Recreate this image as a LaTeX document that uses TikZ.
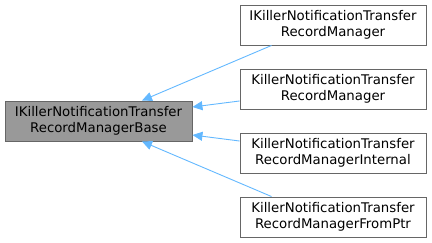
\documentclass[tikz,border=0pt]{standalone}
\usepackage{fontspec}
\setmainfont{DejaVu Sans}
\usetikzlibrary{arrows.meta,calc}
\definecolor{boxborder}{HTML}{666666}
\definecolor{basefill}{HTML}{999999}
\definecolor{edgeblue}{HTML}{63B8FF}
\begin{document}
\begin{tikzpicture}[x=1pt,y=-1pt,
  cls/.style={draw=boxborder, fill=white, line width=0.9pt, minimum width=186pt,
    minimum height=40pt, align=center, inner sep=0pt,
    font=\fontsize{13.3}{15.5}\selectfont},
  basecls/.style={cls, fill=basefill, minimum width=187pt},
  inh/.style={draw=edgeblue, line width=0.9pt,
    -{Triangle[length=10pt,width=9pt,fill=edgeblue]}}]
\useasboundingbox (0,0) rectangle (432,243);
% base class
\node[basecls] (base) at (98.5,121) {IKillerNotificationTransfer\\RecordManagerBase};
% derived classes
\node[cls] (c1) at (333,25)  {IKillerNotificationTransfer\\RecordManager};
\node[cls] (c2) at (333,89)  {KillerNotificationTransfer\\RecordManager};
\node[cls] (c3) at (333,153) {KillerNotificationTransfer\\RecordManagerInternal};
\node[cls] (c4) at (333,217) {KillerNotificationTransfer\\RecordManagerFromPtr};
% inheritance connectors
\draw[inh] ($(c1.south west)+(32,0)$) -- ($(base.north)+(43.5,0)$);
\draw[inh] ($(c2.west)+(0,12)$) -- ($(base.east)+(0,-14)$);
\draw[inh] ($(c3.west)+(0,-12)$) -- ($(base.east)+(0,14)$);
\draw[inh] ($(c4.north west)+(32,0)$) -- ($(base.south)+(43.5,0)$);
\end{tikzpicture}
\end{document}
